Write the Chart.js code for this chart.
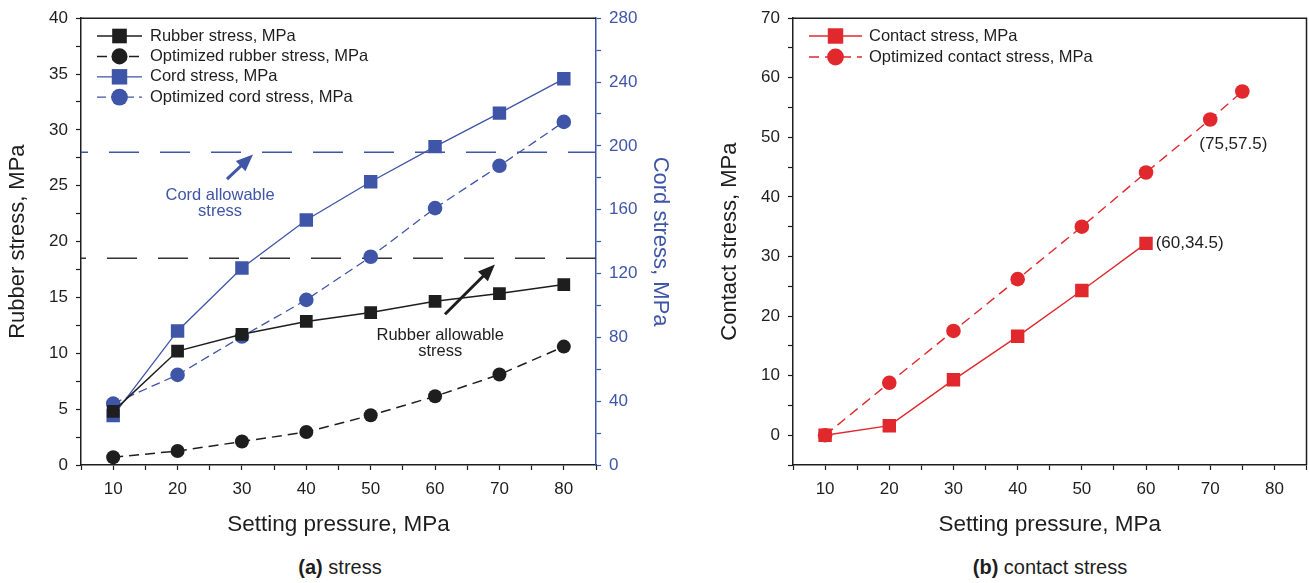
<!DOCTYPE html>
<html>
<head>
<meta charset="utf-8">
<script src="https://cdn.jsdelivr.net/npm/chart.js@4.4.1/dist/chart.umd.min.js"></script>
<style>
body { margin: 0; background: #fff; width: 1309px; height: 583px; overflow: hidden; position: relative;
       font-family: 'Liberation Sans', Arial, sans-serif; color: #1e1e1e; }
#boxA { position: absolute; left: 0; top: 0; width: 680px; height: 545px; }
#boxB { position: absolute; left: 680px; top: 0; width: 636px; height: 545px; }
.cap { position: absolute; top: 556px; width: 400px; font-size: 20px; text-align: center; }
</style>
</head>
<body>
<div id="boxA"><canvas id="stress"></canvas></div>
<div id="boxB"><canvas id="contact"></canvas></div>
<div class="cap" style="left:140px"><b>(a)</b> stress</div>
<div class="cap" style="left:850px"><b>(b)</b> contact stress</div>
<script>
// setting pressure, MPa
var pressure = [10, 20, 30, 40, 50, 60, 70, 80];
var rubberStress = [4.8, 10.2, 11.7, 12.85, 13.65, 14.65, 15.35, 16.15];
var optRubberStress = [0.7, 1.25, 2.1, 2.95, 4.45, 6.15, 8.1, 10.6];
var cordStress = [31, 84, 123.5, 153.5, 177.5, 199.5, 220.5, 242];
var optCordStress = [38.5, 56.5, 80.5, 103.5, 130.5, 161, 187.5, 215];
var rubberAllowable = 18.5;
var cordAllowable = 196;

var contactPressure = [10, 20, 30, 40, 50, 60];
var contactStress = [0, 1.6, 9.3, 16.6, 24.3, 32.2];
var optContactPressure = [10, 20, 30, 40, 50, 60, 70, 75];
var optContactStress = [0, 8.8, 17.5, 26.2, 35, 44.1, 53, 57.7];

var ink = '#1e1e1e';
var blue = '#3f55a8';
var red = '#e0282d';
var fam = "'Liberation Sans', Arial, sans-serif";

Chart.defaults.font.family = fam;
Chart.defaults.color = ink;

function series(xs, ys) {
    return xs.map(function (x, i) { return { x: x, y: ys[i] }; });
}

// top (and right) edge of the plot box
var framePlugin = {
    id: 'frame',
    beforeDatasetsDraw: function (chart, args, o) {
        var a = chart.chartArea, ctx = chart.ctx;
        ctx.save();
        ctx.strokeStyle = ink;
        ctx.lineWidth = 1.5;
        ctx.beginPath();
        ctx.moveTo(a.left, a.top);
        ctx.lineTo(a.right, a.top);
        if (o.right) ctx.lineTo(a.right, a.bottom);
        ctx.stroke();
        ctx.restore();
    }
};

// legend drawn inside the plot area
var boxLegend = {
    id: 'boxLegend',
    afterDraw: function (chart, args, o) {
        var ctx = chart.ctx;
        var row = 0;
        chart.data.datasets.forEach(function (ds) {
            if (ds.inLegend === false) return;
            var y = o.y + row * o.gap;
            ctx.save();
            ctx.strokeStyle = ds.borderColor;
            ctx.lineWidth = ds.borderWidth;
            ctx.setLineDash(ds.borderDash || []);
            ctx.beginPath();
            ctx.moveTo(o.x, y);
            ctx.lineTo(o.x + o.len, y);
            ctx.stroke();
            ctx.setLineDash([]);
            ctx.fillStyle = ds.pointBackgroundColor;
            Chart.helpers.drawPoint(ctx, { pointStyle: ds.pointStyle, radius: ds.pointRadius * 1.15, borderWidth: 0, rotation: 0 }, o.x + o.len / 2, y);
            ctx.fillStyle = ink;
            ctx.font = '16.5px ' + fam;
            ctx.textBaseline = 'middle';
            ctx.textAlign = 'left';
            ctx.fillText(ds.label, o.x + o.len + o.textGap, y);
            ctx.restore();
            row++;
        });
    }
};

// arrows and text notes placed in data coordinates
var notes = {
    id: 'notes',
    afterDatasetsDraw: function (chart, args, o) {
        var ctx = chart.ctx, sx = chart.scales.x;
        (o.arrows || []).forEach(function (a) {
            var sy = chart.scales[a.axis || 'y'];
            var x1 = sx.getPixelForValue(a.from[0]), y1 = sy.getPixelForValue(a.from[1]);
            var x2 = sx.getPixelForValue(a.to[0]), y2 = sy.getPixelForValue(a.to[1]);
            var ang = Math.atan2(y2 - y1, x2 - x1), head = 17, half = 7;
            var c = Math.cos(ang), s = Math.sin(ang);
            ctx.save();
            ctx.strokeStyle = a.color;
            ctx.fillStyle = a.color;
            ctx.lineWidth = 3;
            ctx.beginPath();
            ctx.moveTo(x1, y1);
            ctx.lineTo(x2 - head * c * 0.8, y2 - head * s * 0.8);
            ctx.stroke();
            ctx.beginPath();
            ctx.moveTo(x2, y2);
            ctx.lineTo(x2 - head * c + half * s, y2 - head * s - half * c);
            ctx.lineTo(x2 - head * c - half * s, y2 - head * s + half * c);
            ctx.closePath();
            ctx.fill();
            ctx.restore();
        });
        (o.texts || []).forEach(function (t) {
            var sy = chart.scales[t.axis || 'y'];
            var x = sx.getPixelForValue(t.at[0]), y = sy.getPixelForValue(t.at[1]);
            ctx.save();
            ctx.fillStyle = t.color;
            ctx.font = (t.size || 16.5) + 'px ' + fam;
            ctx.textAlign = t.align || 'center';
            ctx.textBaseline = 'middle';
            t.lines.forEach(function (line, i) { ctx.fillText(line, x, y + i * 16); });
            ctx.restore();
        });
    }
};

function xAxis() {
    return {
        type: 'linear', min: 5, max: 85,
        afterFit: function (s) { s.height = 80; },
        border: { color: ink, width: 1.5 },
        grid: { drawOnChartArea: false, tickLength: 5, tickColor: ink, tickWidth: 1.2 },
        ticks: {
            stepSize: 5, autoSkip: false, maxRotation: 0, padding: 9, color: ink, font: { size: 17 },
            callback: function (v) { return (v % 10 === 0 && v >= 10 && v <= 80) ? v : ''; }
        },
        title: { display: true, text: 'Setting pressure, MPa', color: ink, font: { size: 22.5 }, padding: { top: 0, bottom: 7 } }
    };
}

var stressChart = new Chart(document.getElementById('stress'), {
    type: 'line',
    data: {
        datasets: [{
            label: 'Rubber stress, MPa',
            data: series(pressure, rubberStress),
            yAxisID: 'y',
            borderColor: ink, backgroundColor: ink, pointBackgroundColor: ink,
            borderWidth: 1.5, pointStyle: 'rect', pointRadius: 9, pointBorderWidth: 0
        }, {
            label: 'Optimized rubber stress, MPa',
            data: series(pressure, optRubberStress),
            yAxisID: 'y',
            borderColor: ink, backgroundColor: ink, pointBackgroundColor: ink,
            borderWidth: 1.5, borderDash: [10, 6], pointStyle: 'circle', pointRadius: 7, pointBorderWidth: 0
        }, {
            label: 'Cord stress, MPa',
            data: series(pressure, cordStress),
            yAxisID: 'y1',
            borderColor: blue, backgroundColor: blue, pointBackgroundColor: blue,
            borderWidth: 1.3, pointStyle: 'rect', pointRadius: 9.5, pointBorderWidth: 0
        }, {
            label: 'Optimized cord stress, MPa',
            data: series(pressure, optCordStress),
            yAxisID: 'y1',
            borderColor: blue, backgroundColor: blue, pointBackgroundColor: blue,
            borderWidth: 1.3, borderDash: [9, 5], pointStyle: 'circle', pointRadius: 7.3, pointBorderWidth: 0
        }, {
            label: 'Rubber allowable stress',
            inLegend: false,
            data: [{ x: 5, y: rubberAllowable }, { x: 85, y: rubberAllowable }],
            yAxisID: 'y',
            borderColor: '#333', borderWidth: 1.5, borderDash: [30, 21], borderDashOffset: 25, pointRadius: 0
        }, {
            label: 'Cord allowable stress',
            inLegend: false,
            data: [{ x: 5, y: cordAllowable }, { x: 85, y: cordAllowable }],
            yAxisID: 'y1',
            borderColor: blue, borderWidth: 1.5, borderDash: [30, 21], borderDashOffset: 23, pointRadius: 0
        }]
    },
    options: {
        responsive: true, maintainAspectRatio: false, animation: false,
        layout: { padding: { top: 15, left: 0, right: 0, bottom: 0 } },
        plugins: {
            legend: { display: false },
            tooltip: { enabled: false },
            frame: { right: false },
            boxLegend: { x: 97, y: 36, gap: 20.4, len: 45, textGap: 8 },
            notes: {
                arrows: [
                    { from: [27.68, 25.6], to: [31.72, 27.8], color: blue },
                    { from: [61.54, 13.5], to: [69.3, 17.96], color: ink }
                ],
                texts: [
                    { at: [26.6, 24.1], lines: ['Cord allowable', 'stress'], color: blue },
                    { at: [60.8, 11.64], lines: ['Rubber allowable', 'stress'], color: ink }
                ]
            }
        },
        scales: {
            x: xAxis(),
            y: {
                type: 'linear', position: 'left', min: 0, max: 40,
                afterFit: function (s) { s.width = 81; },
                border: { color: ink, width: 1.5 },
                grid: { drawOnChartArea: false, tickLength: 5, tickColor: ink, tickWidth: 1.2 },
                ticks: {
                    stepSize: 2.5, autoSkip: false, padding: 8, color: ink, font: { size: 17 },
                    callback: function (v) { return v % 5 === 0 ? v : ''; }
                },
                title: { display: true, text: 'Rubber stress, MPa', color: ink, font: { size: 22 }, padding: { top: 5, bottom: 0 } }
            },
            y1: {
                type: 'linear', position: 'right', min: 0, max: 280,
                afterFit: function (s) { s.width = 84; },
                border: { color: blue, width: 1.5 },
                grid: { drawOnChartArea: false, tickLength: 5, tickColor: blue, tickWidth: 1.2 },
                ticks: {
                    stepSize: 20, autoSkip: false, padding: 8, color: blue, font: { size: 17 },
                    callback: function (v) { return v % 40 === 0 ? v : ''; }
                },
                title: { display: true, text: 'Cord stress, MPa', color: blue, font: { size: 22 }, padding: { top: 7, bottom: 0 } }
            }
        }
    },
    plugins: [framePlugin, boxLegend, notes]
});

var contactChart = new Chart(document.getElementById('contact'), {
    type: 'line',
    data: {
        datasets: [{
            label: 'Contact stress, MPa',
            data: series(contactPressure, contactStress),
            borderColor: red, backgroundColor: red, pointBackgroundColor: red,
            borderWidth: 1.4, pointStyle: 'rect', pointRadius: 9.5, pointBorderWidth: 0
        }, {
            label: 'Optimized contact stress, MPa',
            data: series(optContactPressure, optContactStress),
            borderColor: red, backgroundColor: red, pointBackgroundColor: red,
            borderWidth: 1.4, borderDash: [10, 6], pointStyle: 'circle', pointRadius: 7.3, pointBorderWidth: 0
        }]
    },
    options: {
        responsive: true, maintainAspectRatio: false, animation: false,
        layout: { padding: { top: 15, left: 0, right: 0, bottom: 0 } },
        plugins: {
            legend: { display: false },
            tooltip: { enabled: false },
            frame: { right: true },
            boxLegend: { x: 129, y: 36, gap: 21, len: 53, textGap: 7 },
            notes: {
                texts: [
                    { at: [68.3, 48.8], lines: ['(75,57.5)'], color: ink, align: 'left', size: 17 },
                    { at: [61.5, 32.2], lines: ['(60,34.5)'], color: ink, align: 'left', size: 17 }
                ]
            }
        },
        scales: {
            x: xAxis(),
            y: {
                type: 'linear', position: 'left', min: -5, max: 70,
                afterFit: function (s) { s.width = 113; },
                border: { color: ink, width: 1.5 },
                grid: { drawOnChartArea: false, tickLength: 5, tickColor: ink, tickWidth: 1.2 },
                ticks: {
                    stepSize: 5, autoSkip: false, padding: 8, color: ink, font: { size: 17 },
                    callback: function (v) { return (v % 10 === 0 && v >= 0) ? v : ''; }
                },
                title: { display: true, text: 'Contact stress, MPa', color: ink, font: { size: 22 }, padding: { top: 37, bottom: 0 } }
            }
        }
    },
    plugins: [framePlugin, boxLegend, notes]
});
</script>
</body>
</html>
